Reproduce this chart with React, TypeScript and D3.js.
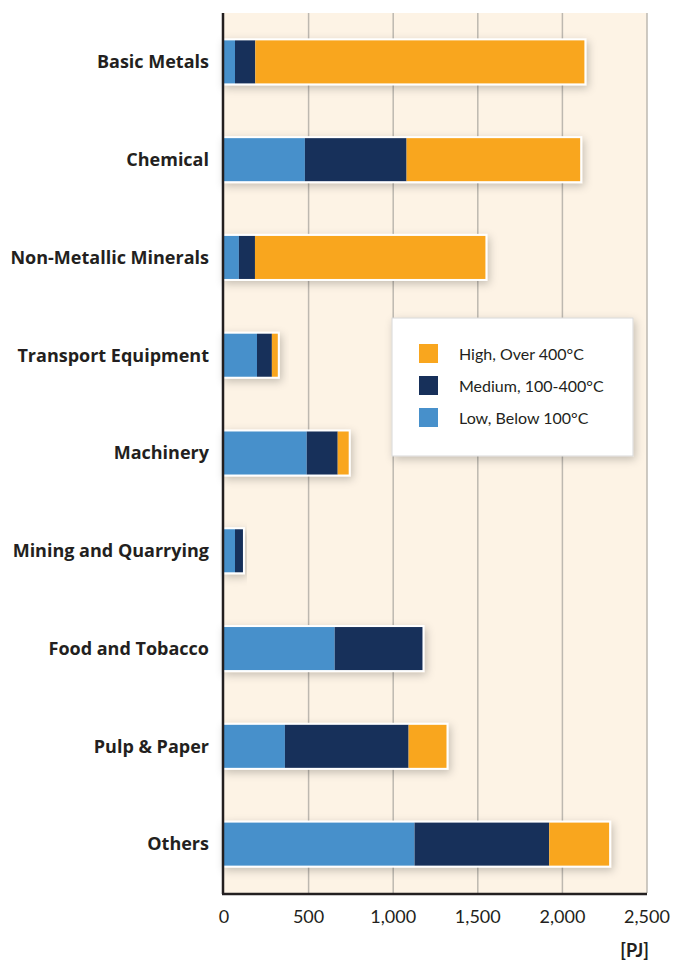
import React from "react";
import * as d3 from "d3";

const categories = [
  "Basic Metals",
  "Chemical",
  "Non-Metallic Minerals",
  "Transport Equipment",
  "Machinery",
  "Mining and Quarrying",
  "Food and Tobacco",
  "Pulp & Paper",
  "Others",
];

// PJ per temperature level
const low = [65, 478, 88, 195, 489, 65, 654, 360, 1126];
const medium = [120, 601, 95, 88, 183, 47, 519, 731, 796];
const high = [1945, 1026, 1362, 35, 65, 0, 0, 224, 354];

const seriesKeys = ["low", "medium", "high"];
const seriesColors: Record<string, string> = {
  low: "#4790CB",
  medium: "#17305A",
  high: "#F9A61E",
};
const legendItems = [
  { key: "high", label: "High, Over 400°C" },
  { key: "medium", label: "Medium, 100-400°C" },
  { key: "low", label: "Low, Below 100°C" },
];
const xTicks = [0, 500, 1000, 1500, 2000, 2500];

const W = 675;
const H = 968;
const margin = { top: 13, right: 28, bottom: 75, left: 224 };

const App: React.FC = () => {
  const rows = categories.map((c, i) => ({
    name: c,
    low: low[i],
    medium: medium[i],
    high: high[i],
  }));

  const x = d3
    .scaleLinear()
    .domain([0, 2500])
    .range([margin.left, W - margin.right]);
  const y = d3
    .scaleBand()
    .domain(categories)
    .range([margin.top, H - margin.bottom])
    .paddingInner(0.56)
    .paddingOuter(0.28);

  const stacked = d3.stack<any>().keys(seriesKeys)(rows);
  const fmt = d3.format(",");
  const font = "Lato, 'Open Sans', sans-serif";
  const labelFont = "'Open Sans', sans-serif";

  return (
    <svg
      width={W}
      height={H}
      style={{ position: "absolute", left: 0, top: 0, background: "#fff" }}
      fontFamily={font}
    >
      <defs>
        <filter id="shadow" x="-20%" y="-50%" width="140%" height="200%">
          <feDropShadow dx="2" dy="3" stdDeviation="4" floodColor="#000" floodOpacity="0.22" />
        </filter>
      </defs>

      {/* plot background */}
      <rect
        x={margin.left}
        y={margin.top}
        width={x(2500) - margin.left}
        height={H - margin.bottom - margin.top}
        fill="#FDF3E5"
      />

      {/* gridlines */}
      {xTicks.slice(1).map((t) => (
        <line
          key={t}
          x1={x(t)}
          x2={x(t)}
          y1={margin.top}
          y2={H - margin.bottom}
          stroke="#BDB8B0"
          strokeWidth={1.5}
        />
      ))}

      {/* bars */}
      {rows.map((r, i) => {
        const total = r.low + r.medium + r.high;
        const yy = y(r.name)!;
        return (
          <g key={r.name}>
            <rect
              x={x(0)}
              y={yy}
              width={x(total) - x(0)}
              height={y.bandwidth()}
              fill="#fff"
              stroke="#fff"
              strokeWidth={4}
              filter="url(#shadow)"
            />
            {stacked.map((s) =>
              s[i][1] - s[i][0] > 0 ? (
                <rect
                  key={s.key}
                  x={x(s[i][0])}
                  y={yy}
                  width={x(s[i][1]) - x(s[i][0])}
                  height={y.bandwidth()}
                  fill={seriesColors[s.key]}
                />
              ) : null
            )}
          </g>
        );
      })}

      {/* category labels */}
      {categories.map((c) => (
        <text
          key={c}
          x={margin.left - 15}
          y={y(c)! + y.bandwidth() / 2}
          dy="0.35em"
          textAnchor="end"
          fontSize={18}
          fontWeight="bold"
          fontFamily={labelFont}
          fill="#231F20"
        >
          {c}
        </text>
      ))}

      {/* axes */}
      <line
        x1={x(0) - 1}
        x2={x(0) - 1}
        y1={margin.top}
        y2={H - margin.bottom + 1}
        stroke="#231F20"
        strokeWidth={2.5}
      />
      <line
        x1={x(0) - 2}
        x2={x(2500)}
        y1={H - margin.bottom + 1}
        y2={H - margin.bottom + 1}
        stroke="#231F20"
        strokeWidth={2.5}
      />
      {xTicks.map((t) => (
        <text
          key={t}
          x={x(t)}
          y={H - margin.bottom + 30}
          textAnchor="middle"
          fontSize={18}
          fill="#231F20"
        >
          {fmt(t)}
        </text>
      ))}
      <text
        x={x(2500) + 2}
        y={H - 11}
        textAnchor="end"
        fontSize={18}
        fontWeight="bold"
        fill="#231F20"
      >
        [PJ]
      </text>

      {/* legend */}
      <g transform="translate(392,318)">
        <rect
          width={241}
          height={138}
          fill="#fff"
          stroke="#D8D8D8"
          strokeWidth={1}
          filter="url(#shadow)"
        />
        {legendItems.map((d, i) => (
          <g key={d.key} transform={`translate(27,${26 + i * 32})`}>
            <rect width={19} height={19} fill={seriesColors[d.key]} />
            <text x={40} y={10} dy="0.35em" fontSize={16} fill="#231F20">
              {d.label}
            </text>
          </g>
        ))}
      </g>
    </svg>
  );
};

export default App;
